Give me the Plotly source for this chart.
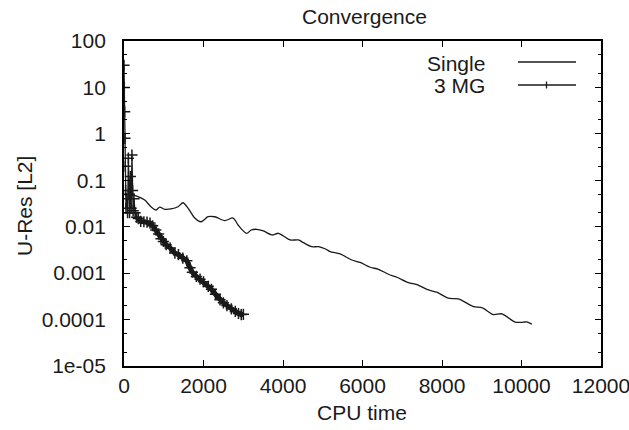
import plotly.graph_objects as go

# ---- data ----
single_x = [227, 352, 521, 680, 806, 899, 1024, 1183, 1359, 1485, 1611, 1780, 1938, 2114, 2283,
            2535, 2744, 2870, 2950, 3088, 3200, 3340, 3506, 3718, 3884, 4010, 4178, 4387, 4513,
            4724, 4890, 5084, 5185, 5437, 5731, 5940, 6192, 6401, 6653, 6864, 7156, 7367, 7659,
            7871, 8163, 8414, 8792, 9003, 9295, 9507, 9841, 10050, 10136, 10262]
single_y = [0.048, 0.0446, 0.0375, 0.0269, 0.0229, 0.0265, 0.0237, 0.0241, 0.0269, 0.0328, 0.0252,
            0.0154, 0.0128, 0.0164, 0.0164, 0.0135, 0.0154, 0.0109, 0.0090, 0.0072, 0.0085, 0.0088,
            0.0081, 0.00664, 0.00722, 0.00631, 0.00518, 0.00518, 0.00453, 0.00371, 0.00371, 0.00327,
            0.00290, 0.00259, 0.00192, 0.00170, 0.00134, 0.00121, 0.000946, 0.000816, 0.000625,
            0.000566, 0.000435, 0.000388, 0.000288, 0.000279, 0.000190, 0.000181, 0.000128,
            0.000133, 0.0000879, 0.0000879, 0.0000893, 0.0000796]

mg_x = [0, 8, 16, 24, 32, 40, 50, 70, 90, 110, 125, 140, 160, 180, 200, 215, 230, 250, 280,
        320, 360, 420, 500, 580, 654, 720, 800, 870, 930, 990, 1060, 1160, 1280, 1370, 1480,
        1580, 1660, 1720, 1820, 1913, 2000, 2120, 2200, 2300, 2416, 2500, 2590, 2700, 2800,
        2880, 2950, 3003]
mg_y = [30, 10, 3, 0.8, 0.2, 0.06, 0.025, 0.04, 0.02, 0.3, 0.05, 0.02, 0.12, 0.025, 0.35, 0.06,
        0.022, 0.04, 0.02, 0.016, 0.015, 0.013, 0.0128, 0.0125, 0.012, 0.0105, 0.0085, 0.007,
        0.0055, 0.0048, 0.0041, 0.0035, 0.0027, 0.0025, 0.0021, 0.00185, 0.0013, 0.00105,
        0.00085, 0.00074, 0.00065, 0.00052, 0.00045, 0.00035, 0.000266, 0.00023, 0.0002,
        0.00017, 0.00015, 0.000135, 0.000128, 0.00013]

x_ticks = [0, 2000, 4000, 6000, 8000, 10000, 12000]
x_tick_text = ["0", "2000", "4000", "6000", "8000", "10000", "12000"]
y_ticks = [1e-5, 1e-4, 1e-3, 1e-2, 1e-1, 1, 10, 100]
y_tick_text = ["1e-05", "0.0001", "0.001", "0.01", "0.1", "1", "10", "100"]

series_names = ["Single", "3 MG"]

FONT = "Liberation Sans, Arial, sans-serif"
FS = 21
INK = "#1a1a1a"

fig = go.Figure()

fig.add_trace(go.Scatter(x=single_x, y=single_y, mode="lines", name=series_names[0],
                         line=dict(color=INK, width=1.3, shape="spline", smoothing=0.8),
                         showlegend=False))

band_start = 19  # thick band portion of the 3 MG curve
fig.add_trace(go.Scatter(x=mg_x[band_start:], y=mg_y[band_start:], mode="lines",
                         line=dict(color=INK, width=5), showlegend=False, hoverinfo="skip"))
fig.add_trace(go.Scatter(x=mg_x, y=mg_y, mode="lines+markers", name=series_names[1],
                         line=dict(color=INK, width=1.3),
                         marker=dict(symbol="cross-thin", size=8, line=dict(color=INK, width=1.5)),
                         showlegend=False))

axis_common = dict(showline=True, linecolor="black", linewidth=1.8, mirror="ticks",
                   ticks="inside", ticklen=6, tickwidth=1.2, tickcolor="black",
                   showgrid=False, zeroline=False, ticklabeloverflow="allow",
                   automargin=False,
                   tickfont=dict(family=FONT, size=FS, color=INK))

fig.update_xaxes(range=[0, 12000], tickvals=x_ticks, ticktext=x_tick_text,
                 ticklabelstandoff=0, **axis_common)
fig.update_yaxes(type="log", range=[-5, 2], tickvals=y_ticks, ticktext=y_tick_text,
                 ticklabelstandoff=12,
                 minor=dict(dtick="D2", ticks="inside", ticklen=3, tickcolor="black", showgrid=False),
                 **axis_common)

# plot area: x 124..601 px, y 41..366 px
W, H = 629, 430
L, R, T, B = 124, 601, 41, 366
def px(xp):
    return (xp - L) / (R - L)
def py(yp):
    return (B - yp) / (B - T)

annotations = [
    dict(text="Convergence", x=px(364), y=py(17), xref="paper", yref="paper",
         showarrow=False, xanchor="center", yanchor="middle",
         font=dict(family=FONT, size=FS, color=INK)),
    dict(text="CPU time", x=px(362), y=py(412), xref="paper", yref="paper",
         showarrow=False, xanchor="center", yanchor="middle",
         font=dict(family=FONT, size=FS, color=INK)),
    dict(text="U-Res [L2]", x=px(24), y=py(206), xref="paper", yref="paper",
         showarrow=False, xanchor="center", yanchor="middle", textangle=-90,
         font=dict(family=FONT, size=FS, color=INK)),
    dict(text=series_names[0], x=px(487), y=py(63), xref="paper", yref="paper",
         showarrow=False, xanchor="right", yanchor="middle",
         font=dict(family=FONT, size=FS, color=INK)),
    dict(text=series_names[1], x=px(487), y=py(86), xref="paper", yref="paper",
         showarrow=False, xanchor="right", yanchor="middle",
         font=dict(family=FONT, size=FS, color=INK)),
]

shapes = [
    dict(type="line", xref="paper", yref="paper", x0=px(518), x1=px(576), y0=py(62), y1=py(62),
         line=dict(color=INK, width=1.3)),
    dict(type="line", xref="paper", yref="paper", x0=px(518), x1=px(576), y0=py(85), y1=py(85),
         line=dict(color=INK, width=1.3)),
    dict(type="line", xref="paper", yref="paper", x0=px(546.5), x1=px(546.5), y0=py(81.5), y1=py(88.5),
         line=dict(color=INK, width=1.3)),
]

fig.update_layout(width=W, height=H,
                  margin=dict(l=L, r=W - R, t=T, b=H - B, pad=0, autoexpand=False),
                  paper_bgcolor="white", plot_bgcolor="white",
                  showlegend=False, annotations=annotations, shapes=shapes,
                  font=dict(family=FONT, size=FS, color=INK))

fig.write_html("out.html", config={"displayModeBar": False},
               post_script="document.body.style.margin='0';document.body.style.padding='0';")
